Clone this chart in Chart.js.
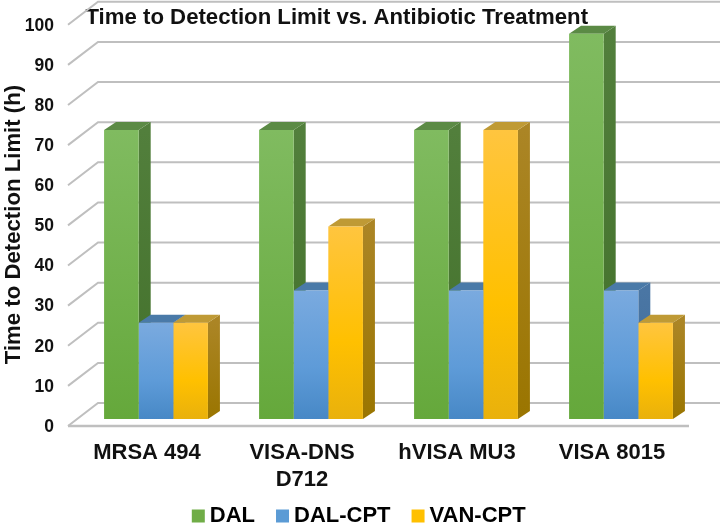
<!DOCTYPE html>
<html>
<head>
<meta charset="utf-8">
<title>Time to Detection Limit</title>
<script src="https://cdn.jsdelivr.net/npm/chart.js@4"></script>
<style>
  html, body { margin: 0; padding: 0; background: #fff; overflow: hidden; }
  canvas { display: block; }
</style>
</head>
<body>
<canvas id="chart" width="720" height="523"></canvas>
<script>
const categories = ['MRSA 494', ['VISA-DNS', 'D712'], 'hVISA MU3', 'VISA 8015'];
const seriesNames = ['DAL', 'DAL-CPT', 'VAN-CPT'];
const dalValues = [72, 72, 72, 96];
const dalCptValues = [24, 32, 32, 32];
const vanCptValues = [24, 48, 72, 24];
const titleText = 'Time to Detection Limit vs. Antibiotic Treatment';
const yAxisText = 'Time to Detection Limit (h)  ';

// colours per series: legend, front gradient, side gradient, top face
const legendColors = ['#70ad47', '#5b9bd5', '#ffc000'];
const frontColors = [
  ['#80bb60', '#70b04a', '#65a83b'],
  ['#7aaadf', '#5e9bd8', '#4788c6'],
  ['#ffc53f', '#ffc000', '#e9b10c']
];
const sideColors = [['#527f3c', '#42702a'], ['#4a76a4', '#3f6c9a'], ['#ab8525', '#9a7500']];
const topColors = ['#5b8a45', '#4a7aa8', '#bf9a35'];

const FONT = '"Liberation Sans", Arial, sans-serif';
const DEPTH_X = 12, DEPTH_Y = 8;

function frontFill(context) {
  const colors = frontColors[context.datasetIndex];
  if (!context.parsed) return colors[1];
  const { chart } = context;
  const g = chart.ctx.createLinearGradient(0, chart.scales.y.getPixelForValue(context.parsed.y), 0, chart.chartArea.bottom);
  g.addColorStop(0, colors[0]);
  g.addColorStop(0.6, colors[1]);
  g.addColorStop(1, colors[2]);
  return g;
}

function drawWall(chart) {
  const { ctx, scales: { y }, chartArea } = chart;
  const frontX = chartArea.left - 10.5, backX = chartArea.left + 19.5;
  ctx.save();
  ctx.strokeStyle = '#bfbfbf';
  ctx.lineWidth = 2;
  y.ticks.forEach(t => {
    const py = y.getPixelForValue(t.value);
    ctx.beginPath();
    ctx.moveTo(frontX, py + 7);
    ctx.lineTo(backX, py - 16);
    ctx.lineTo(chart.width, py - 16);
    ctx.stroke();
  });
  const floorY = y.getPixelForValue(0) + 7;
  ctx.lineWidth = 2.5;
  ctx.beginPath();
  ctx.moveTo(frontX, floorY);
  ctx.lineTo(chartArea.right - 9.5, floorY);
  ctx.stroke();
  ctx.restore();
}

function drawBarDepth(chart) {
  const { ctx } = chart;
  ctx.save();
  // left to right so a taller neighbour's side stays over the next top face
  categories.forEach((c, index) => {
    seriesNames.forEach((s, i) => {
      const bar = chart.getDatasetMeta(i).data[index];
      const right = bar.x + bar.width / 2, left = bar.x - bar.width / 2;
      const g = ctx.createLinearGradient(0, bar.y, 0, bar.base);
      g.addColorStop(0, sideColors[i][0]);
      g.addColorStop(1, sideColors[i][1]);
      ctx.fillStyle = g;
      ctx.beginPath();
      ctx.moveTo(right, bar.y);
      ctx.lineTo(right + DEPTH_X, bar.y - DEPTH_Y);
      ctx.lineTo(right + DEPTH_X, bar.base - DEPTH_Y);
      ctx.lineTo(right, bar.base);
      ctx.closePath();
      ctx.fill();
      ctx.fillStyle = topColors[i];
      ctx.beginPath();
      ctx.moveTo(left, bar.y);
      ctx.lineTo(left + DEPTH_X, bar.y - DEPTH_Y);
      ctx.lineTo(right + DEPTH_X, bar.y - DEPTH_Y);
      ctx.lineTo(right, bar.y);
      ctx.closePath();
      ctx.fill();
    });
  });
  ctx.restore();
}

const boxPlugin = {
  id: 'box3d',
  afterLayout(chart) {
    // title and legend sit away from where the layout puts them
    const { titleBlock, legend, scales } = chart;
    titleBlock.top += 9;
    titleBlock.bottom += 9;
    titleBlock.left -= 12.5;
    titleBlock.right -= 12.5;
    legend.top += 14;
    legend.bottom += 14;
    legend.left += 12.5;
    legend.right += 12.5;
    // room for the two line label, labels get clipped to the axis box
    scales.x.bottom += 30;
  },
  beforeDatasetsDraw(chart) {
    drawWall(chart);
    drawBarDepth(chart);
  }
};

new Chart(document.getElementById('chart'), {
  type: 'bar',
  data: {
    labels: categories,
    datasets: [
      { label: seriesNames[0], data: dalValues, backgroundColor: frontFill },
      { label: seriesNames[1], data: dalCptValues, backgroundColor: frontFill },
      { label: seriesNames[2], data: vanCptValues, backgroundColor: frontFill }
    ]
  },
  plugins: [boxPlugin],
  options: {
    responsive: false,
    animation: false,
    layout: { autoPadding: false, padding: { top: 0, right: 21.5, left: 0, bottom: 0 } },
    datasets: {
      bar: {
        borderWidth: 0,
        barPercentage: 1,
        categoryPercentage: 0.67
      }
    },
    scales: {
      x: {
        grid: { display: false, drawTicks: false },
        border: { display: false },
        afterFit: s => { s.height = 45; s.paddingLeft = 0; s.paddingRight = 0; },
        ticks: {
          color: '#111',
          font: { family: FONT, size: 22, weight: 'bold' },
          padding: 21,
          labelOffset: -9,
          maxRotation: 0,
          autoSkip: false
        }
      },
      y: {
        min: 0,
        max: 100,
        grid: { display: false, drawTicks: false },
        border: { display: false },
        afterFit: s => { s.width = 78.5; s.paddingTop = 0; s.paddingBottom = 0; },
        title: {
          display: true,
          text: yAxisText,
          color: '#111',
          font: { family: FONT, size: 22.2, weight: 'bold' },
          padding: { top: 1, bottom: 0 }
        },
        ticks: {
          stepSize: 10,
          color: '#111',
          font: { family: FONT, size: 17.5, weight: 'bold' },
          padding: 24.5,
          labelOffset: 8
        }
      }
    },
    plugins: {
      tooltip: { enabled: false },
      title: {
        display: true,
        text: titleText,
        color: '#111',
        font: { family: FONT, size: 22.2, weight: 'bold', lineHeight: 0.8 },
        padding: 0
      },
      legend: {
        position: 'bottom',
        labels: {
          color: '#111',
          font: { family: FONT, size: 22, weight: 'bold' },
          usePointStyle: true,
          pointStyle: 'rect',
          boxWidth: 1,
          boxHeight: 13,
          padding: 27,
          generateLabels: () => seriesNames.map((name, i) => ({
            text: name,
            fillStyle: legendColors[i],
            strokeStyle: legendColors[i],
            lineWidth: 0,
            pointStyle: 'rect',
            datasetIndex: i
          }))
        }
      }
    }
  }
});
</script>
</body>
</html>
